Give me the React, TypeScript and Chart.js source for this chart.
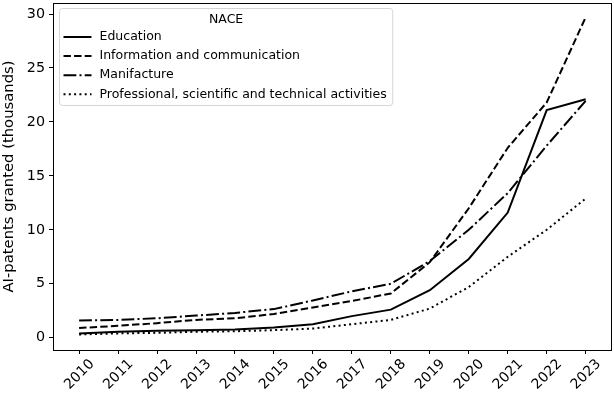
import { useEffect, useRef } from "react";
import { Chart, registerables } from "chart.js";
Chart.register(...registerables);

const years = [2010, 2011, 2012, 2013, 2014, 2015, 2016, 2017, 2018, 2019, 2020, 2021, 2022, 2023];
const education = [0.4, 0.55, 0.65, 0.7, 0.75, 0.95, 1.25, 2.0, 2.6, 4.4, 7.3, 11.6, 21.1, 22.1];
const infoComm = [0.9, 1.1, 1.35, 1.65, 1.8, 2.2, 2.8, 3.4, 4.1, 7.0, 12.0, 17.6, 21.8, 29.7];
const manifacture = [1.6, 1.65, 1.8, 2.05, 2.3, 2.65, 3.45, 4.3, 5.0, 7.1, 10.0, 13.4, 17.8, 21.95];
const professional = [0.3, 0.4, 0.45, 0.55, 0.6, 0.7, 0.85, 1.25, 1.65, 2.7, 4.7, 7.5, 10.0, 12.9];
const seriesNames = [
  "Education",
  "Information and communication",
  "Manifacture",
  "Professional, scientific and technical activities",
];
const yTicks = [0, 5, 10, 15, 20, 25, 30];
const legendTitle = "NACE";
const yTitle = "AI-patents granted (thousands)";

const FONT = "'DejaVu Sans', sans-serif";
const dashes: number[][] = [[], [7.4, 3.2], [12.8, 3.2, 2, 3.2], [2, 3.3]];

const framePlugin = {
  id: "frame",
  afterDraw(chart: any) {
    const { ctx, chartArea: a } = chart;
    ctx.save();
    ctx.strokeStyle = "#000";
    ctx.lineWidth = 1;
    ctx.setLineDash([]);
    ctx.strokeRect(Math.round(a.left) + 0.5, Math.round(a.top) + 0.5, Math.round(a.right - a.left), Math.round(a.bottom - a.top));
    ctx.restore();
  },
};

const legendPlugin = {
  id: "customLegend",
  afterDraw(chart: any) {
    const { ctx, chartArea: a } = chart;
    const ds = chart.data.datasets;
    ctx.save();
    ctx.font = `12.5px ${FONT}`;
    let maxW = 0;
    ds.forEach((d: any) => {
      maxW = Math.max(maxW, ctx.measureText(d.label).width);
    });
    const x0 = a.left + 6.5;
    const y0 = a.top + 5.5;
    const w = 40 + maxW + 6;
    const h = 97;
    ctx.globalAlpha = 0.8;
    ctx.fillStyle = "#fff";
    ctx.strokeStyle = "#cccccc";
    ctx.lineWidth = 1;
    ctx.beginPath();
    (ctx as any).roundRect(x0, y0, w, h, 3);
    ctx.fill();
    ctx.stroke();
    ctx.globalAlpha = 1;
    ctx.fillStyle = "#000";
    ctx.textBaseline = "middle";
    ctx.textAlign = "center";
    ctx.fillText(legendTitle, x0 + w / 2, y0 + 11.5);
    ctx.textAlign = "left";
    ds.forEach((d: any, i: number) => {
      const cy = y0 + 28.5 + i * 19.1;
      ctx.strokeStyle = "#000";
      ctx.lineWidth = 2;
      ctx.lineCap = "butt";
      ctx.setLineDash(d.borderDash || []);
      ctx.beginPath();
      ctx.moveTo(x0 + 4, cy);
      ctx.lineTo(x0 + 32, cy);
      ctx.stroke();
      ctx.setLineDash([]);
      ctx.fillText(d.label, x0 + 40, cy);
    });
    ctx.restore();
  },
};

export default function App() {
  const ref = useRef<HTMLCanvasElement>(null);
  useEffect(() => {
    document.body.style.margin = "0";
    const allSeries = [education, infoComm, manifacture, professional];
    const chart = new Chart(ref.current!, {
      type: "line",
      data: {
        datasets: allSeries.map((s, i) => ({
          label: seriesNames[i],
          data: years.map((y, j) => ({ x: y, y: s[j] })),
          borderColor: "#000",
          borderWidth: 2,
          borderDash: dashes[i],
          borderCapStyle: "butt",
          pointRadius: 0,
          fill: false,
          tension: 0,
        })),
      },
      options: {
        responsive: false,
        animation: false,
        devicePixelRatio: 1,
        layout: { padding: { top: 3, right: 3, left: 0, bottom: 0 } },
        plugins: { legend: { display: false }, tooltip: { enabled: false } },
        scales: {
          x: {
            type: "linear",
            min: 2009.33,
            max: 2023.65,
            afterBuildTicks(scale: any) {
              scale.ticks = years.map((v) => ({ value: v }));
            },
            afterFit(scale: any) {
              scale.height = 48;
              scale.paddingLeft = 0;
              scale.paddingRight = 0;
            },
            ticks: {
              autoSkip: false,
              minRotation: 45,
              maxRotation: 45,
              labelOffset: 13,
              padding: 2,
              color: "#000",
              font: { family: FONT, size: 14 },
              callback: (v: any) => String(v),
            },
            grid: { drawOnChartArea: false, drawTicks: true, tickLength: 4, color: "#000" },
            border: { display: false },
          },
          y: {
            type: "linear",
            min: -1.14,
            max: 31.02,
            afterBuildTicks(scale: any) {
              scale.ticks = yTicks.map((v) => ({ value: v }));
            },
            afterFit(scale: any) {
              scale.width = 53;
              scale.paddingTop = 0;
              scale.paddingBottom = 0;
            },
            ticks: {
              padding: 4,
              color: "#000",
              font: { family: FONT, size: 14.3 },
            },
            grid: { drawOnChartArea: false, drawTicks: true, tickLength: 4, color: "#000" },
            border: { display: false },
            title: {
              display: true,
              text: yTitle,
              color: "#000",
              font: { family: FONT, size: 14.8 },
              padding: { top: 0, bottom: 2 },
            },
          },
        },
      },
      plugins: [framePlugin, legendPlugin],
    } as any);
    return () => chart.destroy();
  }, []);
  return (
    <div style={{ position: "absolute", left: 0, top: 0, width: 614, height: 398, background: "#fff" }}>
      <canvas ref={ref} width={614} height={398} />
    </div>
  );
}
